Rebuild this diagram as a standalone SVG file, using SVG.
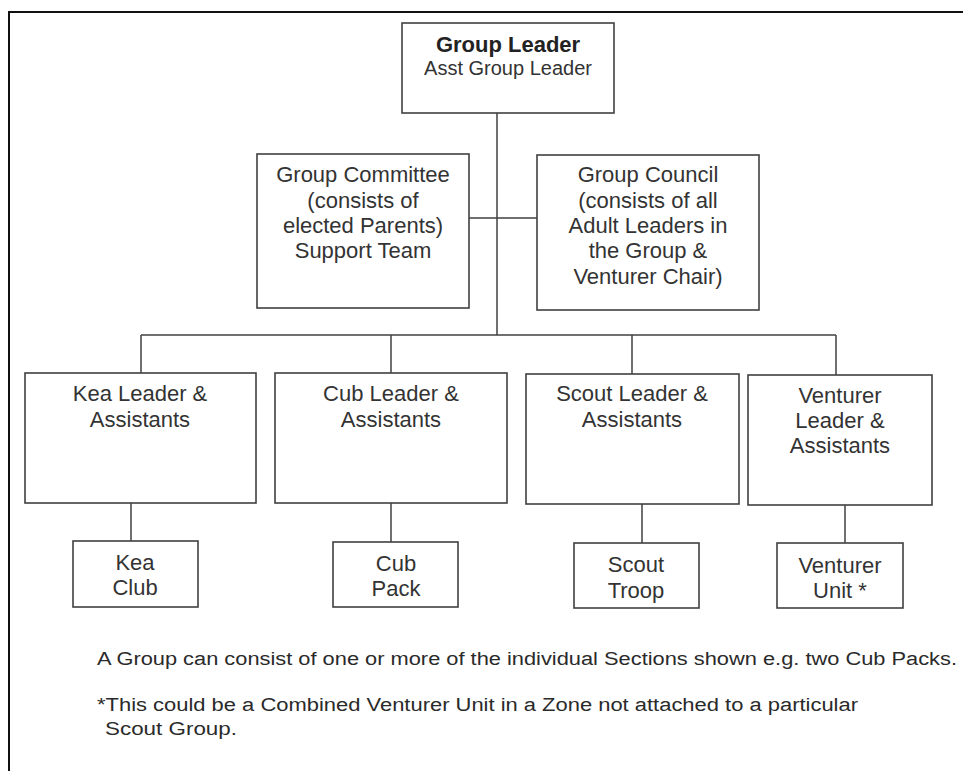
<svg xmlns="http://www.w3.org/2000/svg" width="963" height="771" viewBox="0 0 963 771">
<style>
.box{fill:#fff;stroke:#404040;stroke-width:1.6}
.ln{stroke:#404040;stroke-width:1.5;fill:none}
.t{font-family:"Liberation Sans",Arial,sans-serif;font-size:22px;fill:#333;text-anchor:middle}
.b{font-weight:bold;fill:#222}
.note{font-family:"Liberation Sans",Arial,sans-serif;font-size:18px;fill:#2a2a2a}
</style>
<rect x="0" y="0" width="963" height="771" fill="#fff"/>
<path d="M9 771 V12 H963" fill="none" stroke="#111" stroke-width="2"/>
<g id="connectors">
<line class="ln" x1="497" y1="113" x2="497" y2="335"/>
<line class="ln" x1="469" y1="218" x2="537" y2="218" stroke="#1c1c50"/>
<line class="ln" x1="141" y1="335" x2="836" y2="335"/>
<line class="ln" x1="141" y1="335" x2="141" y2="373"/>
<line class="ln" x1="391" y1="335" x2="391" y2="373"/>
<line class="ln" x1="632" y1="335" x2="632" y2="374"/>
<line class="ln" x1="836" y1="335" x2="836" y2="375"/>
<line class="ln" x1="131" y1="503" x2="131" y2="541"/>
<line class="ln" x1="391" y1="503" x2="391" y2="542"/>
<line class="ln" x1="642" y1="504" x2="642" y2="543"/>
<line class="ln" x1="845" y1="505" x2="845" y2="543"/>
</g>
<g id="group-leader">
<rect class="box" x="402" y="23" width="212" height="90"/>
<text class="t b" x="508" y="52">Group Leader</text>
<text class="t" x="508" y="75" style="font-size:20px">Asst Group Leader</text>
</g>
<g id="group-committee">
<rect class="box" x="257" y="154" width="212" height="154"/>
<text class="t" x="363" y="182">Group Committee</text>
<text class="t" x="363" y="208">(consists of</text>
<text class="t" x="363" y="233">elected Parents)</text>
<text class="t" x="363" y="258">Support Team</text>
</g>
<g id="group-council">
<rect class="box" x="537" y="155" width="222" height="155"/>
<text class="t" x="648" y="182">Group Council</text>
<text class="t" x="648" y="208">(consists of all</text>
<text class="t" x="648" y="233">Adult Leaders in</text>
<text class="t" x="648" y="258">the Group &amp;</text>
<text class="t" x="648" y="284">Venturer Chair)</text>
</g>
<g id="kea-leader">
<rect class="box" x="25" y="373" width="231" height="130"/>
<text class="t" x="140" y="401">Kea Leader &amp;</text>
<text class="t" x="140" y="427">Assistants</text>
</g>
<g id="cub-leader">
<rect class="box" x="275" y="373" width="232" height="130"/>
<text class="t" x="391" y="401">Cub Leader &amp;</text>
<text class="t" x="391" y="427">Assistants</text>
</g>
<g id="scout-leader">
<rect class="box" x="526" y="374" width="213" height="130"/>
<text class="t" x="632" y="401">Scout Leader &amp;</text>
<text class="t" x="632" y="427">Assistants</text>
</g>
<g id="venturer-leader">
<rect class="box" x="748" y="375" width="184" height="130"/>
<text class="t" x="840" y="403">Venturer</text>
<text class="t" x="840" y="428">Leader &amp;</text>
<text class="t" x="840" y="453">Assistants</text>
</g>
<g id="kea-club">
<rect class="box" x="73" y="541" width="125" height="66"/>
<text class="t" x="135" y="570">Kea</text>
<text class="t" x="135" y="595">Club</text>
</g>
<g id="cub-pack">
<rect class="box" x="333" y="542" width="125" height="65"/>
<text class="t" x="396" y="571">Cub</text>
<text class="t" x="396" y="596">Pack</text>
</g>
<g id="scout-troop">
<rect class="box" x="574" y="543" width="125" height="65"/>
<text class="t" x="636" y="572">Scout</text>
<text class="t" x="636" y="598">Troop</text>
</g>
<g id="venturer-unit">
<rect class="box" x="777" y="543" width="126" height="65"/>
<text class="t" x="840" y="573">Venturer</text>
<text class="t" x="840" y="598">Unit *</text>
</g>
<g id="notes">
<text class="note" x="97" y="665" textLength="860" lengthAdjust="spacingAndGlyphs">A Group can consist of one or more of the individual Sections shown e.g. two Cub Packs.</text>
<text class="note" x="97" y="711" textLength="761" lengthAdjust="spacingAndGlyphs">*This could be a Combined Venturer Unit in a Zone not attached to a particular</text>
<text class="note" x="105" y="735" textLength="132" lengthAdjust="spacingAndGlyphs">Scout Group.</text>
</g>
</svg>
